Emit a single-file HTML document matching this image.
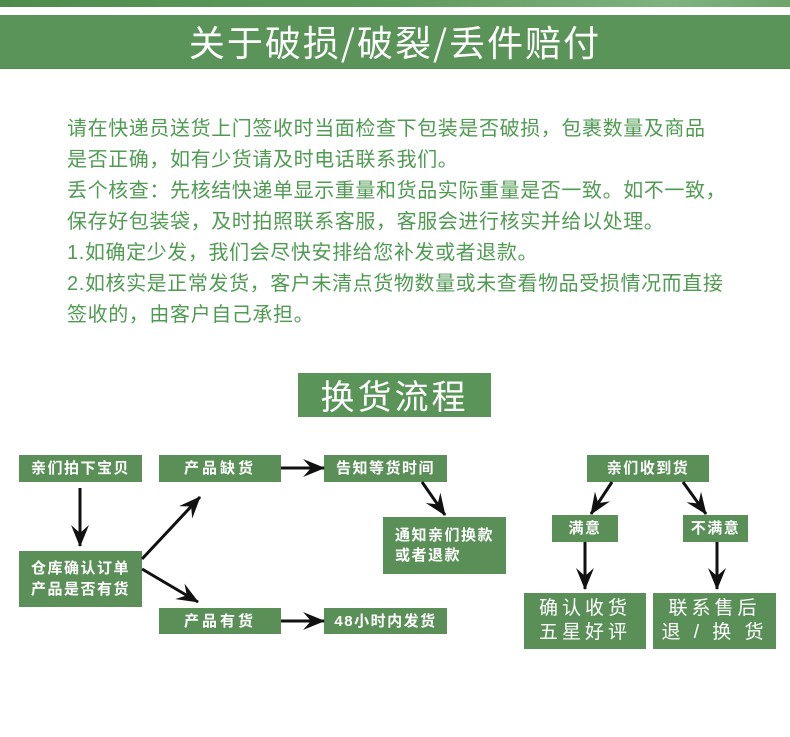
<!DOCTYPE html>
<html>
<head>
<meta charset="utf-8">
<style>
html,body{margin:0;padding:0;}
body{width:790px;height:737px;position:relative;background:#fff;overflow:hidden;font-family:"Liberation Sans","Noto Sans CJK SC",sans-serif;}
.stripe{position:absolute;left:0;top:0;width:790px;height:7px;background:linear-gradient(90deg,#4e8c4e 0%,#5f9a5d 50%,#7fb27f 85%,#6da56b 100%);}
.band{position:absolute;left:0;top:15px;width:790px;height:53px;background:#5b9459;border-bottom:1px solid #4f8a4e;}
.band span{position:absolute;left:0;top:0;width:790px;text-align:center;line-height:53px;color:#fff;font-size:36px;letter-spacing:2px;font-family:"Noto Sans CJK SC",sans-serif;}
.body{position:absolute;left:67px;top:114px;width:720px;font-size:20px;line-height:31px;letter-spacing:0.6px;color:#4f9b52;font-family:"Liberation Sans","Noto Sans CJK SC",sans-serif;white-space:nowrap;}
.box{position:absolute;background:#5a9058;color:#fff;display:flex;align-items:center;justify-content:center;text-align:center;font-family:"Liberation Sans","Noto Sans CJK SC",sans-serif;font-weight:bold;font-size:15px;letter-spacing:1.5px;line-height:21px;white-space:nowrap;}
.title2{position:absolute;left:298px;top:373px;width:193px;height:44px;background:#5b9459;color:#fff;font-size:34px;line-height:44px;text-align:center;letter-spacing:3px;font-family:"Noto Sans CJK SC",sans-serif;}
.big{font-size:19px;letter-spacing:4px;line-height:24px;font-weight:normal;}
svg{position:absolute;left:0;top:0;}
</style>
</head>
<body>
<div class="stripe"></div>
<div class="band"><span>关于破损/破裂/丢件赔付</span></div>

<div class="body">
请在快递员送货上门签收时当面检查下包装是否破损，包裹数量及商品<br>
是否正确，如有少货请及时电话联系我们。<br>
丢个核查：先核结快递单显示重量和货品实际重量是否一致。如不一致，<br>
保存好包装袋，及时拍照联系客服，客服会进行核实并给以处理。<br>
1.如确定少发，我们会尽快安排给您补发或者退款。<br>
2.如核实是正常发货，客户未清点货物数量或未查看物品受损情况而直接<br>
签收的，由客户自己承担。
</div>

<div class="title2">换货流程</div>

<div class="box" style="left:19px;top:455px;width:123px;height:27px;">亲们拍下宝贝</div>
<div class="box" style="left:159px;top:455px;width:122px;height:27px;letter-spacing:3px;">产品缺货</div>
<div class="box" style="left:324px;top:455px;width:123px;height:27px;">告知等货时间</div>
<div class="box" style="left:19px;top:551px;width:123px;height:56px;">仓库确认订单<br>产品是否有货</div>
<div class="box" style="left:159px;top:608px;width:122px;height:26px;letter-spacing:3px;">产品有货</div>
<div class="box" style="left:324px;top:608px;width:123px;height:26px;">48小时内发货</div>
<div class="box" style="left:383px;top:517px;width:123px;height:57px;justify-content:flex-start;text-align:left;padding-left:12px;box-sizing:border-box;line-height:20px;">通知亲们换款<br>或者退款</div>

<div class="box" style="left:587px;top:455px;width:122px;height:27px;">亲们收到货</div>
<div class="box" style="left:552px;top:515px;width:66px;height:27px;">满意</div>
<div class="box" style="left:683px;top:515px;width:65px;height:27px;">不满意</div>
<div class="box big" style="left:524px;top:593px;width:122px;height:56px;">确认收货<br>五星好评</div>
<div class="box big" style="left:653px;top:593px;width:123px;height:56px;">联系售后<br>退 / 换 货</div>

<svg width="790" height="737" viewBox="0 0 790 737">
<defs>
<marker id="ah" viewBox="0 0 22 18" refX="21" refY="9" markerWidth="22" markerHeight="18" markerUnits="userSpaceOnUse" orient="auto">
<path d="M0,0 L22,9 L0,18 L8,9 z" fill="#111"/>
</marker>
</defs>
<g stroke="#111" stroke-width="3" fill="none" marker-end="url(#ah)">
<line x1="80" y1="488" x2="80" y2="546"/>
<line x1="142" y1="559" x2="200" y2="497"/>
<line x1="142" y1="569" x2="198" y2="602"/>
<line x1="281" y1="468" x2="324" y2="468"/>
<line x1="281" y1="621" x2="324" y2="621"/>
<line x1="422" y1="482" x2="445" y2="515"/>
<line x1="612" y1="482" x2="591" y2="514"/>
<line x1="683" y1="482" x2="706" y2="514"/>
<line x1="585" y1="542" x2="585" y2="589"/>
<line x1="717" y1="542" x2="717" y2="589"/>
</g>
</svg>
</body>
</html>
